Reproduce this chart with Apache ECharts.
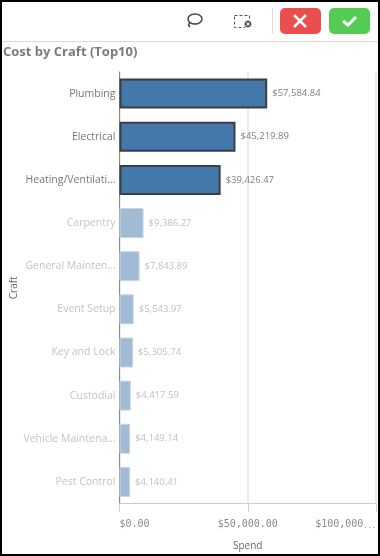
<!DOCTYPE html>
<html><head><meta charset="utf-8">
<style>html,body{margin:0;padding:0;background:#fff}#c{width:380px;height:556px}</style>
<script src="https://cdn.jsdelivr.net/npm/echarts@6/dist/echarts.min.js"></script></head>
<body><div id="c"></div>
<script>
const categories=["Plumbing","Electrical","Heating/Ventilati...","Carpentry","General Mainten...","Event Setup","Key and Lock","Custodial","Vehicle Maintena...","Pest Control"];
const spend=[57584.84,45219.89,39426.47,9386.27,7843.89,5543.97,5305.74,4417.59,4149.14,4140.41];
const selectedCount=3;
const axisTicks=[0,50000,100000];
const tickLabels={0:"$0.00",50000:"$50,000.00",100000:"{a|$100,000}{b|...}"};
const title="Cost by Craft (Top10)";
const font="'Open Sans'";
const fmt=v=>"$"+v.toLocaleString("en-US",{minimumFractionDigits:2,maximumFractionDigits:2});
const chart=echarts.init(document.getElementById("c"),null,{renderer:"canvas"});
const line=(x1,y1,x2,y2,stroke,w)=>({type:"line",shape:{x1,y1,x2,y2},style:{stroke,lineWidth:w||1}});
chart.setOption({
 animation:false,
 backgroundColor:"#fff",
 textStyle:{fontFamily:font},
 title:{text:title,left:3,top:46,padding:0,textStyle:{fontFamily:font,fontSize:13,fontWeight:"bold",color:"#7b7b7b"}},
 grid:{left:119.5,top:72,width:256.5,height:431.5,outerBoundsMode:"none"},
 xAxis:{type:"value",min:0,max:100000,interval:50000,name:"Spend",nameLocation:"middle",nameGap:38,nameMoveOverlap:false,
  nameTextStyle:{color:"#666",fontSize:10,fontFamily:font},
  axisLine:{show:true,lineStyle:{color:"#ccc",width:1}},
  axisTick:{show:true,length:8,lineStyle:{color:"#ccc"}},
  splitLine:{show:true,lineStyle:{color:"#ebebeb",width:2}},
  axisLabel:{margin:16,fontSize:10,fontFamily:"'DejaVu Sans Mono'",color:"#8a8a8a",
   formatter:v=>tickLabels[v],
   rich:{a:{fontSize:10,fontFamily:"'DejaVu Sans Mono'",color:"#8a8a8a"},
         b:{fontSize:7,fontFamily:"'DejaVu Sans Mono'",color:"#8a8a8a",verticalAlign:"bottom"}},
   alignMinLabel:"left",alignMaxLabel:"right",customValues:axisTicks}},
 yAxis:{type:"category",inverse:true,data:categories,name:"Craft",nameLocation:"middle",nameGap:100,nameMoveOverlap:false,
  nameTextStyle:{color:"#666",fontSize:10,fontFamily:font},
  axisLine:{show:true,lineStyle:{color:"#888",width:1}},axisTick:{show:false},
  axisLabel:{margin:4,fontSize:10.5,fontFamily:font,
   color:(v,i)=>i<selectedCount?"#777":"#c4c4c4"}},
 series:[{type:"bar",barWidth:30,
  data:spend.map((v,i)=>i<selectedCount
   ?{value:v,itemStyle:{color:"#4477aa",borderColor:"#3a3f45",borderWidth:2},label:{color:"#808080"}}
   :{value:v,itemStyle:{color:"#a2bbd5",borderColor:"#c7d6e6",borderWidth:1},label:{color:"#c0c0c0"}}),
  label:{show:true,position:"right",distance:5,fontSize:9.5,fontFamily:font,formatter:p=>fmt(p.value)}}],
 graphic:[
  line(0,41.5,380,41.5,"#d9d9d9"),
  line(272.5,8,272.5,34,"#dcdcdc"),
  {type:"rect",shape:{x:280,y:8,width:41,height:26,r:5},style:{fill:"#e94f4f"}},
  line(294,15,306,27,"#fff",2.5),line(306,15,294,27,"#fff",2.5),
  {type:"rect",shape:{x:329,y:8,width:41,height:26,r:5},style:{fill:"#52cc52"}},
  {type:"polyline",shape:{points:[[343,21],[348,25],[356,17]]},style:{stroke:"#fff",lineWidth:3,fill:null}},
  {type:"ellipse",shape:{cx:195,cy:19,rx:7,ry:5},style:{stroke:"#444",lineWidth:1.5,fill:null}},
  {type:"polyline",shape:{points:[[190,22],[188.5,25],[190,27]]},style:{stroke:"#444",lineWidth:1.5,fill:null}},
  {type:"rect",shape:{x:234.5,y:15.5,width:15,height:12},style:{stroke:"#555",lineWidth:1,lineDash:[3,2],fill:null}},
  {type:"circle",shape:{cx:248,cy:24,r:4},style:{fill:"#555",stroke:"#fff",lineWidth:1}},
  line(246.3,22.3,249.7,25.7,"#fff"),line(249.7,22.3,246.3,25.7,"#fff"),
  {type:"rect",z:100,silent:true,shape:{x:1,y:1,width:378,height:554},style:{fill:null,stroke:"#000",lineWidth:2}}
 ]
});
</script></body></html>
